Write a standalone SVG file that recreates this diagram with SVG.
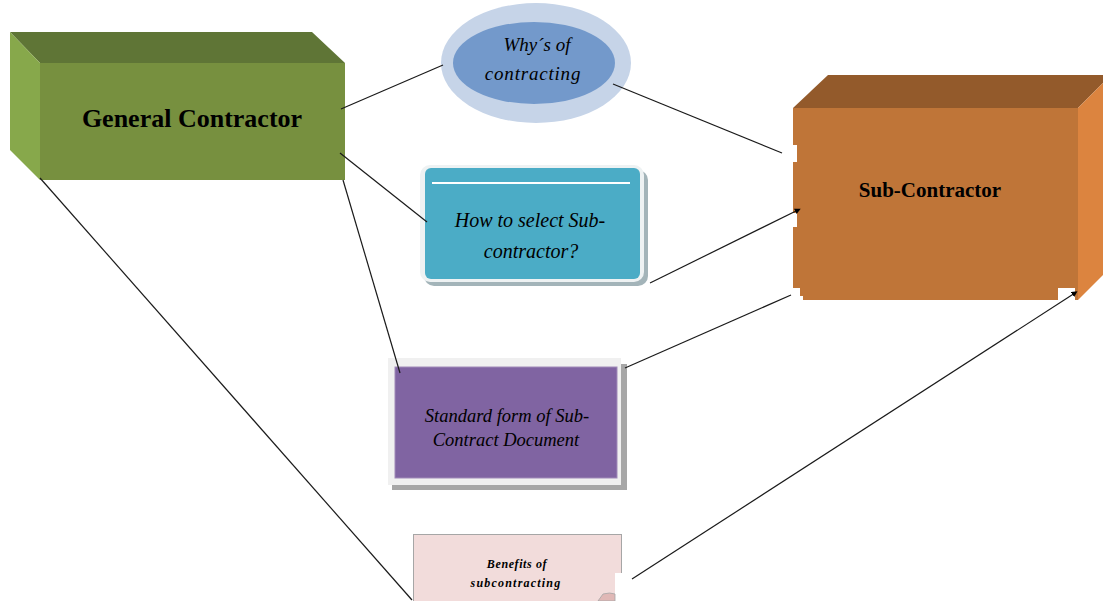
<svg xmlns="http://www.w3.org/2000/svg" width="1103" height="601" viewBox="0 0 1103 601">
<defs>
<style>
.lbl{font-family:"Liberation Serif","Times New Roman",serif;fill:#000;text-anchor:middle}
.b{font-weight:bold}
.i{font-style:italic}
.ln{stroke:#1a1a1a;stroke-width:1.2;fill:none}
</style>
<marker id="ah" markerWidth="6" markerHeight="6" refX="3" refY="3" orient="auto" markerUnits="userSpaceOnUse">
<path d="M0,0 L6,3 L0,6 z" fill="#000"/>
</marker>
</defs>
<rect width="1103" height="601" fill="#fff"/>

<g id="general-contractor">
<polygon points="10,32 312,32 345,63 40,63" fill="#5f7536"/>
<polygon points="10,32 40,63 40,180 10,150" fill="#87a84b"/>
<rect x="40" y="63" width="305" height="117" fill="#77903f"/>
<text class="lbl b" x="192" y="127" font-size="26">General Contractor</text>
</g>

<g id="whys">
<ellipse cx="536" cy="63" rx="95" ry="60" fill="#c6d4e8"/>
<ellipse cx="534" cy="63" rx="81" ry="41" fill="#7399cb"/>
<text class="lbl i" x="537" y="51" font-size="19">Why´s of</text>
<text class="lbl i" x="533" y="80" font-size="19" letter-spacing="0.8">contracting</text>
</g>

<g id="select">
<rect x="424" y="170" width="224" height="116" rx="10" fill="#a3b4b9"/>
<rect x="420" y="165" width="224" height="117" rx="10" fill="#eef2f3"/>
<rect x="425" y="168" width="215" height="111" rx="6" fill="#4bacc6"/>
<line x1="432" y1="183" x2="630" y2="183" stroke="#ffffff" stroke-width="2"/>
<text class="lbl i" x="530" y="227" font-size="20">How to select Sub-</text>
<text class="lbl i" x="531" y="258" font-size="20">contractor?</text>
</g>

<g id="standard-form">
<rect x="392" y="364" width="235" height="126" fill="#a7a7a7"/>
<rect x="388" y="358" width="233" height="127" fill="#f0f0f0"/>
<rect x="395" y="367" width="222" height="111" fill="#8064a2" stroke="#a08ab8" stroke-width="1"/>
<text class="lbl i" x="507" y="422" font-size="18.5">Standard form of Sub-</text>
<text class="lbl i" x="506" y="446" font-size="18.5">Contract Document</text>
</g>

<g id="benefits">
<rect x="413.5" y="534.5" width="208" height="70" fill="#f2dcdb" stroke="#a6a6a6" stroke-width="1"/>
<rect x="615" y="573" width="9" height="28" fill="#ffffff"/>
<path d="M598,601 L603,594 Q610,592 615,594 L615,601 z" fill="#e0b8b6" stroke="#a6a6a6" stroke-width="0.8"/>
<text class="lbl i b" x="517" y="568" font-size="12" letter-spacing="0.6">Benefits of</text>
<text class="lbl i b" x="516" y="587" font-size="12" letter-spacing="1.2">subcontracting</text>
</g>

<g id="sub-contractor">
<polygon points="793,108 828,75 1111,75 1078,108" fill="#935a2b"/>
<polygon points="1078,108 1111,75 1111,267 1078,300" fill="#dc843f"/>
<rect x="793" y="108" width="285" height="192" fill="#bf7538"/>
<rect x="792" y="145" width="5" height="17" fill="#ffffff"/>
<rect x="792" y="213" width="5" height="14" fill="#ffffff"/>
<polygon points="792,288 800,288 800,296 803,296 803,301 792,301" fill="#ffffff"/>
<rect x="1058" y="288" width="17" height="13" fill="#ffffff"/>
<text class="lbl b" x="930" y="197" font-size="21">Sub-Contractor</text>
</g>

<g id="connectors">
<line class="ln" x1="341" y1="109" x2="443" y2="65"/>
<line class="ln" x1="340" y1="153" x2="427" y2="222"/>
<line class="ln" x1="343" y1="180" x2="400" y2="373"/>
<line class="ln" x1="40" y1="178" x2="412" y2="600"/>
<line class="ln" x1="613" y1="84" x2="782" y2="153"/>
<line class="ln" x1="650" y1="283" x2="798" y2="210" marker-end="url(#ah)"/>
<line class="ln" x1="625" y1="368" x2="791" y2="295"/>
<line class="ln" x1="632" y1="579" x2="1075" y2="293" marker-end="url(#ah)"/>
</g>
</svg>
